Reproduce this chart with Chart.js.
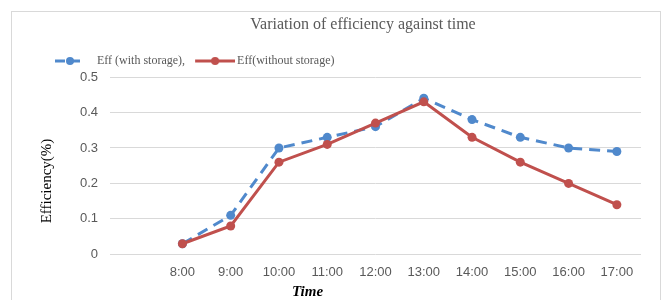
<!DOCTYPE html>
<html>
<head>
<meta charset="utf-8">
<script src="https://cdn.jsdelivr.net/npm/chart.js@4"></script>
<style>
  body { margin: 0; background: #fff; }
  #wrap { position: relative; width: 661px; height: 300px; overflow: hidden; }
  #frame { position: absolute; left: 11px; top: 11px; width: 648px; height: 320px; border: 1px solid #d9d9d9; }
  canvas { position: absolute; left: 0; top: 0; }
</style>
</head>
<body>
<div id="wrap">
  <div id="frame"></div>
  <canvas id="chart" width="661" height="300"></canvas>
</div>
<script>
// данные графика
const times = ['', '8:00', '9:00', '10:00', '11:00', '12:00', '13:00', '14:00', '15:00', '16:00', '17:00'];
const effWithStorage = [null, 0.03, 0.11, 0.30, 0.33, 0.36, 0.44, 0.38, 0.33, 0.30, 0.29];
const effWithoutStorage = [null, 0.03, 0.08, 0.26, 0.31, 0.37, 0.43, 0.33, 0.26, 0.20, 0.14];
const yTicks = [0, 0.1, 0.2, 0.3, 0.4, 0.5];

const blue = '#5089cc';
const red = '#c0504d';

// иконка легенды: линия с маркером
function legendIcon(color, dashed, w, x0, x1) {
    const c = document.createElement('canvas');
    c.width = w;
    c.height = 12;
    const g = c.getContext('2d');
    g.strokeStyle = color;
    g.lineWidth = 3;
    if (dashed) g.setLineDash([10, 5]);
    g.beginPath();
    g.moveTo(x0, 6);
    g.lineTo(x1, 6);
    g.stroke();
    g.setLineDash([]);
    g.fillStyle = color;
    g.beginPath();
    g.arc((x0 + x1) / 2, 6, 4, 0, Math.PI * 2);
    g.fill();
    return c;
}

// заголовок и подписи осей рисуем сами (они смещены, как в оригинале)
const chartTexts = {
    id: 'chartTexts',
    afterDraw(chart) {
        const ctx = chart.ctx;
        const xs = chart.scales.x;
        ctx.save();
        ctx.textAlign = 'center';
        ctx.textBaseline = 'middle';
        ctx.fillStyle = '#595959';
        ctx.font = '16px "Liberation Serif"';
        ctx.fillText('Variation of efficiency against time', 363, 25);
        ctx.fillStyle = '#000';
        ctx.font = 'bold italic 15px "Liberation Serif"';
        ctx.fillText('Time', (xs.left + xs.right) / 2 - 68, 292);
        ctx.translate(47, 181);
        ctx.rotate(-Math.PI / 2);
        ctx.font = '15px "Liberation Serif"';
        ctx.fillText('Efficiency(%)', 0, 0);
        ctx.restore();
    }
};

new Chart(document.getElementById('chart'), {
    type: 'line',
    data: {
        labels: times,
        datasets: [{
            label: 'Eff (with storage),',
            data: effWithStorage,
            borderColor: blue,
            backgroundColor: blue,
            borderWidth: 3,
            borderDash: [11, 7],
            pointRadius: 4.5,
            pointBorderWidth: 0,
            pointHoverRadius: 4.5,
            tension: 0,
            order: 1
        }, {
            label: 'Eff(without storage)',
            data: effWithoutStorage,
            borderColor: red,
            backgroundColor: red,
            borderWidth: 3,
            pointRadius: 4.5,
            pointBorderWidth: 0,
            pointHoverRadius: 4.5,
            tension: 0,
            order: 0
        }]
    },
    options: {
        responsive: false,
        animation: false,
        events: [],
        layout: { padding: { left: 45, right: 20, top: 45, bottom: 10 } },
        plugins: {
            title: { display: false },
            legend: {
                position: 'top',
                align: 'start',
                labels: {
                    usePointStyle: true,
                    pointStyleWidth: 36,
                    color: '#595959',
                    font: { family: 'Liberation Serif', size: 12 },
                    generateLabels: () => [{
                        text: 'Eff (with storage),',
                        pointStyle: legendIcon(blue, true, 36, 0, 30),
                        fillStyle: blue,
                        strokeStyle: blue,
                        lineWidth: 0,
                        fontColor: '#595959',
                        hidden: false,
                        datasetIndex: 0
                    }, {
                        text: 'Eff(without storage)',
                        pointStyle: legendIcon(red, false, 44, 4, 44),
                        fillStyle: red,
                        strokeStyle: red,
                        lineWidth: 0,
                        fontColor: '#595959',
                        hidden: false,
                        datasetIndex: 1
                    }]
                }
            },
            tooltip: { enabled: false }
        },
        scales: {
            x: {
                offset: true,
                grid: { display: false, drawTicks: false },
                border: { display: false },
                ticks: {
                    color: '#595959',
                    font: { family: 'Liberation Sans', size: 13 },
                    padding: 10,
                    maxRotation: 0,
                    autoSkip: false
                }
            },
            y: {
                min: 0,
                max: 0.5,
                afterFit: s => { s.width = 65; },
                afterBuildTicks: s => { s.ticks = yTicks.map(v => ({ value: v })); },
                grid: { color: '#d9d9d9', drawTicks: false },
                border: { display: false },
                ticks: {
                    color: '#595959',
                    font: { family: 'Liberation Sans', size: 13 },
                    padding: 12
                }
            }
        }
    },
    plugins: [chartTexts]
});
</script>
</body>
</html>
